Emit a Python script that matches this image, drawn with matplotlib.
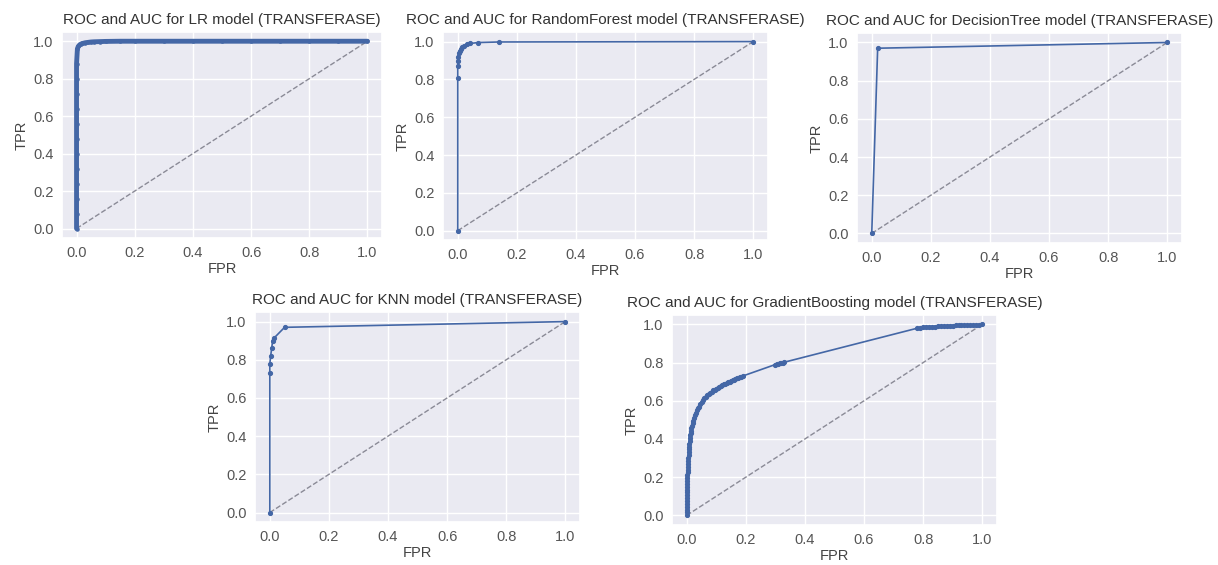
import matplotlib
matplotlib.use("Agg")
import matplotlib.pyplot as plt
import seaborn as sns

sns.set_theme(style="darkgrid")
plt.rcParams['font.family'] = ['Liberation Sans', 'DejaVu Sans']

target = "TRANSFERASE"
models = ["LR", "RandomForest", "DecisionTree", "KNN", "GradientBoosting"]

# ROC points
lr_fpr = [0.0, 0.0, 0.0, 0.0, 0.0, 0.0, 0.0, 0.0, 0.0, 0.0, 0.0, 0.0,
          0.003, 0.006, 0.01, 0.015, 0.02, 0.03, 0.04, 0.05, 0.06, 0.08, 0.1,
          0.15, 0.2, 0.3, 0.4, 0.5, 0.6, 0.7, 0.8, 0.9, 1.0]
lr_tpr = [0.0, 0.08, 0.16, 0.24, 0.32, 0.4, 0.48, 0.56, 0.64, 0.72, 0.8, 0.88,
          0.96, 0.972, 0.98, 0.985, 0.988, 0.992, 0.994, 0.996, 0.997, 0.998, 0.999,
          1.0, 1.0, 1.0, 1.0, 1.0, 1.0, 1.0, 1.0, 1.0, 1.0]

rf_fpr = [0.0, 0.0, 0.0, 0.0, 0.0, 0.003, 0.006, 0.01, 0.015, 0.02, 0.03, 0.04, 0.07, 0.14, 1.0]
rf_tpr = [0.0, 0.81, 0.87, 0.9, 0.92, 0.94, 0.95, 0.96, 0.97, 0.975, 0.985, 0.99, 0.995, 0.998, 1.0]

dt_fpr = [0.0, 0.02, 1.0]
dt_tpr = [0.0, 0.97, 1.0]

knn_fpr = [0.0, 0.0, 0.0, 0.003, 0.006, 0.01, 0.015, 0.05, 1.0]
knn_tpr = [0.0, 0.73, 0.78, 0.82, 0.86, 0.9, 0.915, 0.97, 1.0]

gb_fpr = [0.0, 0.0, 0.0, 0.0, 0.0, 0.0, 0.0, 0.0, 0.0, 0.0, 0.0,
          0.001, 0.001, 0.002, 0.002, 0.003, 0.003, 0.004, 0.004, 0.005, 0.005,
          0.006, 0.006, 0.007, 0.008, 0.009, 0.01, 0.011, 0.012, 0.013, 0.014,
          0.016, 0.018, 0.02, 0.022, 0.025, 0.028, 0.031, 0.034, 0.037, 0.04,
          0.045, 0.05, 0.055, 0.06, 0.065, 0.07, 0.075, 0.08, 0.085, 0.09, 0.095,
          0.1, 0.105, 0.11, 0.115, 0.12, 0.125, 0.13, 0.135, 0.14, 0.145, 0.15,
          0.155, 0.16, 0.165, 0.17, 0.175, 0.18, 0.185, 0.19,
          0.3, 0.305, 0.31, 0.315, 0.32, 0.325, 0.33,
          0.78, 0.79, 0.8, 0.81, 0.82, 0.83, 0.84, 0.85, 0.86, 0.87, 0.88, 0.89,
          0.9, 0.91, 0.92, 0.93, 0.94, 0.95, 0.96, 0.97, 0.98, 0.99, 1.0]
gb_tpr = [0.0, 0.015, 0.03, 0.045, 0.06, 0.075, 0.09, 0.105, 0.12, 0.135, 0.15,
          0.165, 0.18, 0.195, 0.21, 0.225, 0.24, 0.255, 0.27, 0.285, 0.3,
          0.315, 0.33, 0.345, 0.36, 0.375, 0.39, 0.405, 0.42, 0.43, 0.44,
          0.455, 0.47, 0.485, 0.495, 0.51, 0.525, 0.538, 0.55, 0.56, 0.57,
          0.582, 0.593, 0.603, 0.612, 0.62, 0.628, 0.635, 0.642, 0.648, 0.654, 0.659,
          0.664, 0.669, 0.674, 0.678, 0.682, 0.686, 0.69, 0.694, 0.698, 0.701, 0.705,
          0.708, 0.711, 0.714, 0.717, 0.72, 0.723, 0.726, 0.73,
          0.79, 0.792, 0.794, 0.796, 0.798, 0.8, 0.802,
          0.98, 0.982, 0.984, 0.985, 0.987, 0.988, 0.989, 0.99, 0.991, 0.992, 0.993, 0.994,
          0.994, 0.995, 0.995, 0.996, 0.996, 0.997, 0.997, 0.998, 0.998, 0.999, 1.0]

curves = [(lr_fpr, lr_tpr), (rf_fpr, rf_tpr), (dt_fpr, dt_tpr),
          (knn_fpr, knn_tpr), (gb_fpr, gb_tpr)]
line_w = [3.5, 1.2, 1.2, 1.2, 1.2]
mark_s = [4.5, 5.5, 5.5, 5.5, 5.5]

# axes boxes in figure fractions [left, bottom, width, height]
boxes = [[0.0509, 0.579, 0.2627, 0.3646],
         [0.3637, 0.575, 0.2668, 0.3681],
         [0.7036, 0.570, 0.2668, 0.3717],
         [0.2094, 0.076, 0.2668, 0.3717],
         [0.5517, 0.071, 0.2668, 0.3717]]

fig = plt.figure(figsize=(12.18, 5.65), dpi=100)
for name, (fpr, tpr), box, lw, ms in zip(models, curves, boxes, line_w, mark_s):
    ax = fig.add_axes(box)
    ax.plot([0, 1], [0, 1], color="#8a8a96", linestyle="--", linewidth=1)
    ax.plot(fpr, tpr, marker=".", markersize=ms, linewidth=lw, color="#4467A6")
    ax.set_xticks([0.0, 0.2, 0.4, 0.6, 0.8, 1.0])
    ax.set_yticks([0.0, 0.2, 0.4, 0.6, 0.8, 1.0])
    ax.tick_params(labelsize=10.5, colors="#555555", length=0, pad=6)
    ax.set_xlabel("FPR", fontsize=10.5, color="#444444", labelpad=1)
    ax.set_ylabel("TPR", fontsize=10.5, color="#444444", labelpad=3)
    ax.set_title("ROC and AUC for {} model ({})".format(name, target),
                 fontsize=11, color="#333333", pad=6)

fig.savefig("out.png", dpi=100)
